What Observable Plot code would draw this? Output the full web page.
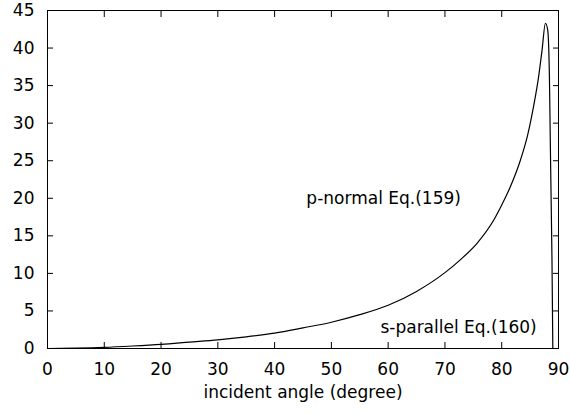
<!DOCTYPE html>
<html><head><meta charset="utf-8">
<script src="https://cdn.jsdelivr.net/npm/d3@7"></script>
<script src="https://cdn.jsdelivr.net/npm/@observablehq/plot@0.6"></script>
<style>body{margin:0;background:#fff;} #chart svg{display:block;}</style>
</head><body><div id="chart"></div>
<script>
const angle = [0,5,10,15,20,25,30,35,40,45,50,55,60,65,70,72.7,75.65,78.6,80,81.5,83.3,84.5,85.6,86.5,87.1,87.7,88.1,88.4,88.56,88.73,88.85,89.0];
const pNormal = [0,0.05,0.15,0.33,0.55,0.85,1.15,1.55,2.05,2.75,3.5,4.5,5.75,7.6,10.1,11.8,14.0,17.1,19.1,21.5,25.1,28.2,32.2,36.2,39.7,43.3,42.4,36.2,27.3,18.4,11.9,0];
const xTicks = [0,10,20,30,40,50,60,70,80,90];
const yTicks = [0,5,10,15,20,25,30,35,40,45];
const labelText = ["p-normal Eq.(159)", "s-parallel Eq.(160)"];
const labelAngle = [59.2, 72.4];
const labelValue = [20, 2.85];
const xLabel = "incident angle (degree)";

const points = angle.map((a, i) => ({a, v: pNormal[i]}));
const labels = labelText.map((t, i) => ({t, a: labelAngle[i], v: labelValue[i]}));

const chart = Plot.plot({
  width: 570, height: 415,
  marginLeft: 47, marginRight: 12, marginTop: 10, marginBottom: 67,
  style: {fontFamily: "DejaVu Sans", fontSize: "17px", color: "black", background: "white"},
  x: {domain: [0, 90]},
  y: {domain: [0, 45]},
  marks: [
    Plot.frame({stroke: "black"}),
    Plot.axisX(xTicks, {anchor: "bottom", tickSize: -6, tickPadding: 20, label: null}),
    Plot.axisX(xTicks, {anchor: "top", tickSize: -6, tickFormat: () => "", label: null}),
    Plot.axisY(yTicks, {anchor: "left", tickSize: -6, tickPadding: 19, label: null}),
    Plot.axisY(yTicks, {anchor: "right", tickSize: -6, tickFormat: () => "", label: null}),
    Plot.line(points, {x: "a", y: "v", stroke: "black", strokeWidth: 1.2, curve: "monotone-x"}),
    Plot.text(labels, {x: "a", y: "v", text: "t", fontSize: 17, fill: "black"}),
    Plot.text([xLabel], {frameAnchor: "bottom", dy: 49, text: d => d, fontSize: 17, fill: "black"})
  ]
});
document.getElementById("chart").appendChild(chart);
</script>
</body></html>
